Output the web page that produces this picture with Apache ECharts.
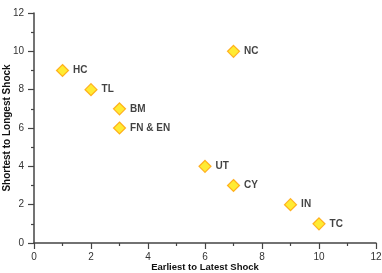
<!DOCTYPE html>
<html><head><meta charset="utf-8">
<script src="https://cdn.jsdelivr.net/npm/echarts@6/dist/echarts.min.js"></script>
<style>html,body{margin:0;padding:0;background:#fff}#c{width:382px;height:273px}</style>
</head><body><div id="c"></div>
<script>
const names = ['HC','TL','BM','FN & EN','NC','UT','CY','IN','TC'];
const xVals = [1,2,3,3,7,6,7,9,10];
const yVals = [9,8,7,6,10,4,3,2,1];
const xTicks = [0,2,4,6,8,10,12];
const yTicks = [0,2,4,6,8,10,12];
const data = names.map((n,i)=>({name:n,value:[xVals[i],yVals[i]]}));
const font = '"Liberation Sans", Arial, sans-serif';
function axisCommon(){ return {
  min:0,max:12,interval:2,
  axisLine:{show:true,onZero:false,lineStyle:{color:'#444',width:1.5}},
  axisTick:{show:true,inside:false,length:6,lineStyle:{color:'#444',width:1.2}},
  minorTick:{show:true,splitNumber:2,length:3,lineStyle:{color:'#444',width:1.2}},
  splitLine:{show:false},
  axisLabel:{color:'#333',fontSize:10,fontFamily:font,margin:9},
  nameMoveOverlap:false,
  nameTextStyle:{color:'#111',fontSize:10,fontWeight:'bold',fontFamily:font}
};}
const chart = echarts.init(document.getElementById('c'),null,{renderer:'canvas'});
const xa = Object.assign(axisCommon(),{type:'value',name:'Earliest to Latest Shock',nameLocation:'middle',nameGap:19});
xa.nameTextStyle.fontSize = 9.5;
const ya = Object.assign(axisCommon(),{type:'value',name:'Shortest to Longest Shock',nameLocation:'middle',nameGap:22});
ya.axisLabel.margin = 10;
chart.setOption({
  animation:false,
  grid:{left:34,right:6,top:13,bottom:30,containLabel:false,outerBoundsMode:'none'},
  xAxis:xa,
  yAxis:ya,
  series:[{
    type:'scatter',symbol:'diamond',symbolSize:[12,12],
    itemStyle:{color:'#FFE600',borderColor:'#FF9F00',borderWidth:1.2},
    label:{show:true,position:'right',distance:4,formatter:p=>p.name,color:'#111',fontSize:10,fontWeight:'bold',fontFamily:font},
    data:data
  }]
});
</script></body></html>
